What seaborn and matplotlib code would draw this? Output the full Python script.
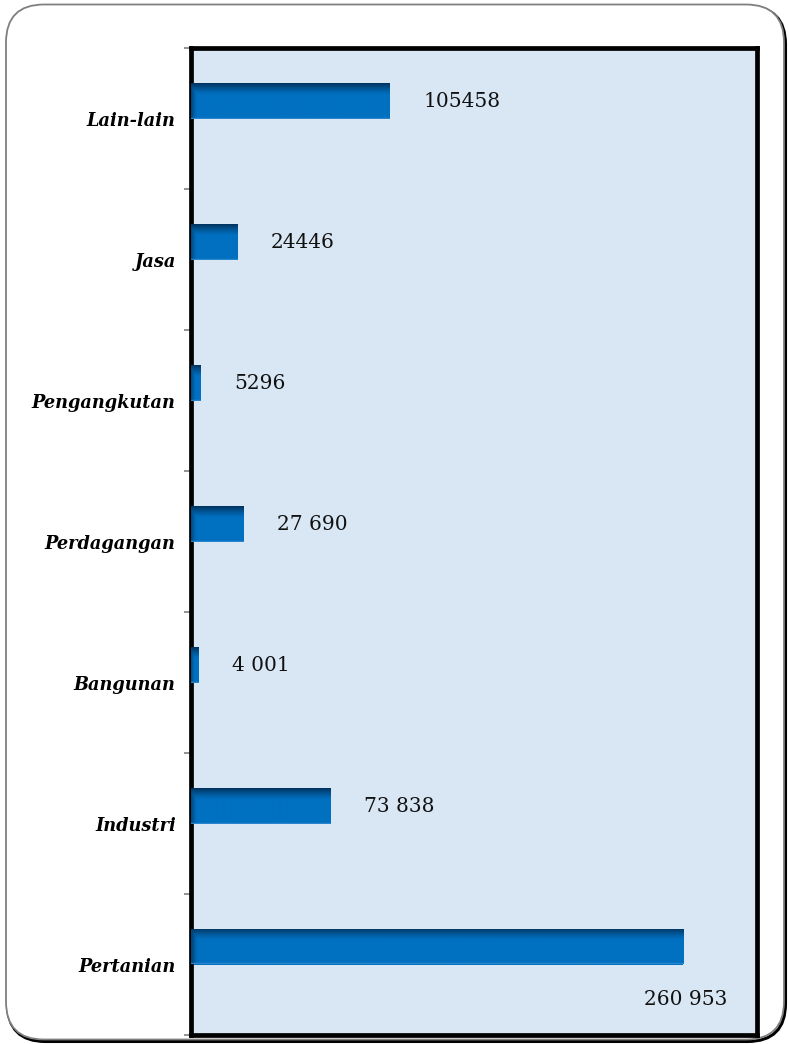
import numpy as np
import pandas as pd
import matplotlib
matplotlib.use("Agg")
import matplotlib.pyplot as plt
import seaborn as sns
from matplotlib.patches import FancyBboxPatch
import matplotlib.colors as mcolors

categories = ["Lain-lain", "Jasa", "Pengangkutan", "Perdagangan", "Bangunan", "Industri", "Pertanian"]
values = [105458, 24446, 5296, 27690, 4001, 73838, 260953]
value_labels = ["105458", "24446", "5296", "27 690", "4 001", "73 838", "260 953"]
x_max = 300000

sns.set_theme(style="white")
plt.rcParams["font.family"] = ["DejaVu Serif"]

df = pd.DataFrame({
    "Sektor": categories * 2,
    "Jumlah": values + [0] * len(values),
    "Seri": ["a"] * len(values) + ["b"] * len(values),
})

W, H = 789, 1044
fig = plt.figure(figsize=(W / 100, H / 100), dpi=100)
fig.patch.set_facecolor("white")

# outer rounded frame with shadow
shadow = FancyBboxPatch((0.075, 0.025), 7.78, 10.35, boxstyle="round,pad=0,rounding_size=0.38",
                        transform=fig.dpi_scale_trans, facecolor="none", edgecolor="black",
                        linewidth=2.2, zorder=-3)
frame = FancyBboxPatch((0.06, 0.045), 7.78, 10.35, boxstyle="round,pad=0,rounding_size=0.38",
                       transform=fig.dpi_scale_trans, facecolor="white", edgecolor="#7f7f7f",
                       linewidth=1.3, zorder=-2)
fig.add_artist(shadow)
fig.add_artist(frame)

ax = fig.add_axes([191 / W, 1 - 1035 / H, (757 - 191) / W, (1035 - 48) / H])
ax.set_facecolor("#d9e7f5")

sns.barplot(data=df, x="Jumlah", y="Sektor", hue="Seri", hue_order=["a", "b"], order=categories,
            orient="h", width=0.51, palette=["#0070C0", "#0070C0"], dodge=True, linewidth=0,
            saturation=1, legend=False, errorbar=None, ax=ax)

ax.set_xlim(0, x_max)
ylim = ax.get_ylim()

base = np.array(mcolors.to_rgb("#0070C0"))
dark = np.array(mcolors.to_rgb("#00335e"))
bars = [p for p in ax.patches if p.get_width() > 0]
bars.sort(key=lambda p: p.get_y())
px_per_unit = (757 - 191) / x_max
for p in bars:
    x0, y0, w, h = p.get_x(), p.get_y(), p.get_width(), p.get_height()
    N, M = 60, 200
    t = np.linspace(0, 1, N)[:, None]
    vert = np.clip(1 - t / 0.32, 0, 1) ** 1.3
    s = np.linspace(0, 1, M)[None, :]
    f = min(6 / (w * px_per_unit), 0.5)
    horiz = np.clip(1 - s / f, 0, 1) ** 1.5 * 0.7
    k = np.maximum(vert, horiz)[:, :, None]
    img = base * (1 - k) + dark * k
    img[-2:, :, :] = np.array(mcolors.to_rgb("#2a86cc"))
    im = ax.imshow(img, extent=(x0, x0 + w, y0 + h, y0), origin="upper", aspect="auto",
                   interpolation="bilinear", zorder=3)
    im.set_clip_path(p)

ax.set_xlim(0, x_max)
ax.set_ylim(ylim)

for i, p in enumerate(bars):
    yc = p.get_y() + p.get_height() / 2
    xe = p.get_x() + p.get_width()
    if i == len(bars) - 1:
        ax.annotate(value_labels[i], xy=(xe, yc), xytext=(2, -38), textcoords="offset points",
                    ha="center", va="center", fontsize=14.5, color="#111111", zorder=5)
    else:
        ax.annotate(value_labels[i], xy=(xe, yc), xytext=(24, -1), textcoords="offset points",
                    ha="left", va="center", fontsize=14.5, color="#111111", zorder=5)

ax.set_xlabel("")
ax.set_ylabel("")
ax.set_xticks([])
ax.tick_params(axis="y", which="major", length=0, pad=11)
ax.set_yticks(np.arange(-0.5, len(categories), 1), minor=True)
ax.tick_params(axis="y", which="minor", length=5, width=1.2, color="#808080", left=True)
for lab in ax.get_yticklabels():
    lab.set_fontstyle("italic")
    lab.set_fontweight("bold")
    lab.set_fontsize(12.8)
    lab.set_color("black")

for sp in ax.spines.values():
    sp.set_visible(True)
    sp.set_color("black")
    sp.set_linewidth(3.4)

fig.savefig("out.png", dpi=100)
